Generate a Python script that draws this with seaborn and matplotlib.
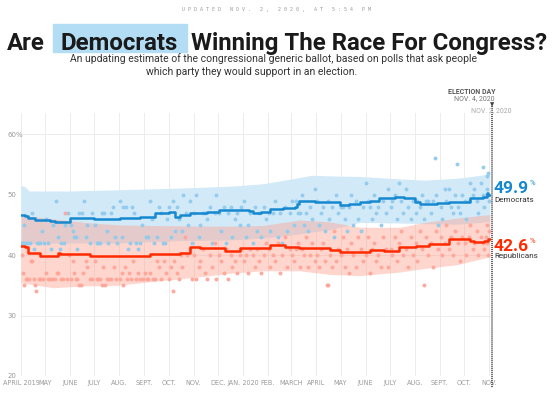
import numpy as np
import pandas as pd
import matplotlib
matplotlib.use("Agg")
import matplotlib.pyplot as plt
import seaborn as sns
from matplotlib.lines import Line2D
from matplotlib.patches import Rectangle

# ---------------- data ----------------
start = pd.Timestamp("2019-04-01")
month_starts = pd.date_range("2019-04-01", "2020-11-01", freq="MS")
month_labels = ["APRIL 2019", "MAY", "JUNE", "JULY", "AUG.", "SEPT.", "OCT.", "NOV.",
                "DEC.", "JAN. 2020", "FEB.", "MARCH", "APRIL", "MAY", "JUNE", "JULY",
                "AUG.", "SEPT.", "OCT.", "NOV."]
y_ticks = [20, 30, 40, 50, 60]
y_tick_labels = ["20", "30", "40", "50", "60%"]

# trend lines (days since 2019-04-01, value %)
dem_trend_days = [0, 5, 9, 17, 36, 42, 57, 61, 90, 120, 123, 147, 166, 184, 191, 197, 209,
                  230, 246, 283, 287, 298, 308, 325, 339, 342, 345, 364, 383, 395, 407, 420,
                  432, 444, 463, 475, 487, 488, 494, 515, 531, 556, 572, 577, 579, 581]
dem_trend_vals = [46.6, 46.4, 46.1, 45.8, 45.6, 45.5, 45.4, 46.1, 46.0, 45.9, 46.2, 46.3, 47.0,
                  47.1, 46.3, 46.6, 46.9, 47.1, 47.4, 47.3, 46.9, 47.2, 47.7, 47.8, 47.9, 48.5,
                  49.0, 48.8, 48.7, 48.3, 48.5, 48.7, 49.0, 49.4, 49.6, 49.5, 49.5, 48.8,
                  48.5, 48.6, 48.8, 49.4, 49.6, 50.2, 49.9, 49.9]

rep_trend_days = [0, 5, 9, 24, 46, 48, 85, 120, 160, 197, 209, 222, 253, 271, 308, 327, 345,
                  383, 395, 432, 450, 469, 490, 506, 531, 556, 562, 574, 579, 581]
rep_trend_vals = [41.5, 41.3, 40.4, 39.8, 40.4, 40.2, 39.9, 39.8, 40.1, 40.3, 41.3, 41.1, 40.7,
                  41.1, 41.6, 41.4, 41.1, 40.8, 40.5, 40.9, 40.7, 41.3, 41.5, 41.9, 42.7, 42.4,
                  42.2, 42.4, 42.6, 42.6]

# uncertainty bands
dem_band_days = [0, 5, 10, 60, 120, 200, 260, 300, 340, 360, 383, 420, 470, 500, 540, 570, 581]
dem_band_hi = [51.5, 51.3, 50.6, 50.6, 50.8, 51.1, 51.4, 51.8, 52.7, 53.2, 53.1, 53.0, 52.6,
               52.4, 52.7, 53.2, 53.5]
dem_band_lo = [41.8, 41.9, 41.9, 42.0, 42.0, 42.4, 42.5, 42.8, 43.4, 43.8, 44.2, 45.4, 45.3,
               45.2, 45.1, 45.4, 45.6]

rep_band_days = [0, 40, 80, 120, 160, 222, 260, 300, 345, 383, 420, 470, 500, 540, 565, 581]
rep_band_hi = [46.6, 46.0, 45.4, 45.0, 44.9, 44.8, 44.8, 44.9, 45.8, 45.5, 44.6, 44.6, 45.4,
               46.1, 46.5, 46.7]
rep_band_lo = [35.4, 34.6, 34.9, 35.0, 35.6, 36.4, 37.0, 37.4, 37.4, 36.8, 36.6, 37.2, 37.8,
               38.4, 39.2, 39.7]

# individual polls (day, value)
dem_polls = [
    (1, 42), (3, 42), (5, 42), (7, 42), (9, 42), (11, 42), (4, 45), (14, 47), (16, 41), (20, 42),
    (22, 42), (24, 42), (26, 44), (28, 42),
    (31, 46), (34, 42), (37, 41), (40, 45), (43, 49), (46, 43), (48, 41), (50, 42), (53, 42),
    (55, 45), (58, 47),
    (62, 45), (64, 44), (66, 43), (68, 43), (70, 41), (72, 47), (75, 47), (78, 49), (80, 43),
    (82, 45), (85, 42), (88, 47),
    (92, 45), (94, 42), (96, 42), (98, 42), (100, 47), (103, 47), (106, 44), (108, 42), (111, 47),
    (114, 48), (116, 43), (119, 42),
    (123, 49), (125, 43), (127, 48), (130, 48), (133, 41), (135, 42), (137, 48), (140, 47),
    (142, 42), (145, 41), (148, 42), (150, 45),
    (155, 43), (157, 43), (160, 49), (162, 46), (165, 42), (168, 43), (171, 48), (174, 47),
    (176, 42), (179, 42), (181, 46),
    (184, 48), (186, 43), (189, 49), (191, 44), (193, 48), (196, 46), (199, 44), (201, 50),
    (204, 47), (207, 45), (210, 49), (212, 42),
    (215, 47), (217, 50), (220, 43), (222, 45), (225, 47), (228, 47), (231, 46), (234, 48),
    (237, 42), (240, 47), (242, 50),
    (246, 47), (248, 44), (251, 48), (254, 42), (257, 47), (260, 48), (262, 43), (265, 46),
    (268, 47), (271, 45), (273, 48),
    (276, 49), (279, 43), (281, 45), (284, 47), (287, 42), (290, 48), (292, 44), (295, 47),
    (298, 43), (301, 48), (304, 46),
    (307, 47), (309, 44), (312, 47), (315, 49), (318, 43), (321, 47), (324, 42), (327, 48),
    (330, 44), (333, 47),
    (336, 49), (338, 45), (341, 49), (343, 47), (346, 47), (348, 50), (351, 45), (353, 47),
    (356, 44), (358, 48), (361, 46), (364, 51),
    (367, 49), (369, 45), (372, 47), (374, 48), (377, 44), (380, 49), (382, 46), (385, 48),
    (388, 43), (391, 50), (393, 47),
    (397, 48), (399, 48), (402, 46), (404, 44), (407, 48), (409, 50), (412, 45), (415, 49),
    (418, 46), (421, 44), (424, 48),
    (428, 52), (430, 49), (433, 48), (435, 46), (438, 50), (440, 47), (443, 48), (446, 45),
    (449, 49), (452, 47), (455, 51),
    (458, 48), (460, 49), (463, 50), (466, 46), (469, 52), (471, 49), (474, 47), (477, 51),
    (480, 48), (483, 46), (486, 49),
    (489, 47), (491, 49), (494, 48), (497, 50), (500, 46), (502, 49), (505, 49), (508, 47),
    (511, 49), (513, 56), (514, 50), (517, 45),
    (520, 48), (522, 46), (525, 51), (527, 49), (530, 51), (533, 48), (535, 47), (538, 50),
    (540, 55), (541, 48), (544, 47), (547, 50),
    (550, 49), (552, 46), (555, 49), (557, 52), (560, 50), (562, 51), (565, 49), (567, 47),
    (570, 52), (572, 50), (573, 54.5), (574, 48), (576, 50), (577, 51), (578, 53), (579, 53.5),
    (580, 49),
]
rep_polls = [
    (1, 40), (3, 37), (4, 35), (6, 36), (8, 36), (10, 36), (12, 39), (14, 39), (16, 36), (17, 35),
    (19, 34), (22, 36), (24, 36), (27, 36),
    (31, 37), (33, 36), (36, 36), (39, 36), (42, 36), (44, 37), (46, 37), (49, 36), (52, 36),
    (54, 47), (57, 36), (59, 40),
    (62, 36), (64, 39), (66, 37), (68, 36), (70, 36), (72, 35), (74, 35), (77, 37), (80, 39),
    (82, 38), (85, 36), (88, 36),
    (92, 39), (94, 36), (96, 36), (98, 36), (100, 35), (102, 38), (104, 35), (106, 36), (109, 36),
    (112, 36), (115, 38), (118, 36),
    (123, 36), (125, 37), (127, 35), (129, 38), (131, 36), (134, 37), (136, 36), (139, 39),
    (142, 36), (145, 37), (148, 36), (151, 36),
    (154, 37), (156, 36), (158, 36), (160, 37), (163, 36), (166, 36), (168, 39), (171, 38),
    (174, 36), (177, 39), (180, 37),
    (184, 36), (186, 38), (188, 34), (190, 39), (193, 37), (196, 36), (198, 40), (200, 38),
    (203, 43), (206, 40), (209, 41), (212, 36),
    (215, 40), (217, 36), (220, 38), (222, 39), (225, 41), (228, 37), (231, 36), (234, 40),
    (237, 38), (240, 42), (242, 36),
    (246, 40), (248, 39), (251, 37), (254, 41), (257, 36), (260, 40), (262, 38), (265, 39),
    (268, 37), (271, 40), (273, 41),
    (276, 39), (279, 40), (281, 37), (284, 41), (287, 40), (290, 38), (292, 41), (295, 39),
    (298, 37), (301, 40), (304, 42),
    (307, 41), (309, 38), (312, 40), (315, 39), (318, 42), (321, 37), (324, 40), (327, 43),
    (330, 38), (333, 41),
    (336, 40), (338, 39), (341, 41), (343, 42), (346, 38), (348, 41), (351, 40), (353, 43),
    (356, 38), (358, 40), (361, 42), (364, 39),
    (367, 40), (369, 38), (372, 41), (374, 42), (377, 39), (379, 35), (381, 35), (383, 40),
    (385, 38), (388, 44), (391, 39), (393, 41),
    (397, 40), (399, 43), (402, 38), (404, 41), (407, 37), (409, 42), (412, 40), (415, 38),
    (418, 43), (421, 41), (424, 39),
    (428, 40), (430, 43), (433, 37), (435, 41), (438, 42), (440, 39), (443, 40), (446, 38),
    (449, 43), (452, 41), (455, 38),
    (458, 41), (460, 40), (463, 43), (466, 39), (469, 42), (471, 44), (474, 40), (477, 41),
    (480, 38), (483, 43), (486, 40),
    (489, 42), (491, 39), (494, 44), (497, 41), (499, 35), (502, 43), (505, 40), (508, 42),
    (511, 38), (514, 44), (517, 41),
    (520, 43), (522, 40), (525, 42), (527, 45), (530, 41), (533, 43), (535, 40), (538, 44),
    (541, 42), (544, 39), (547, 43),
    (550, 42), (552, 40), (555, 43), (557, 45), (560, 41), (562, 42), (565, 44), (567, 40),
    (570, 43), (572, 42), (574, 41), (576, 43), (577, 42), (578, 45), (579, 40), (580, 44),
]
dem_latest = "49.9"
rep_latest = "42.6"
election_day = pd.Timestamp("2020-11-03")

# ---------------- styling ----------------
sns.set_style("white")
plt.rcParams["font.family"] = ["Roboto", "DejaVu Sans"]

BLUE_LINE = "#1688d0"
RED_LINE = "#ff2a00"
BLUE_BAND = "#d2eaf8"
RED_BAND = "#ff9f8c"
BLUE_DOT = "#92caec"
RED_DOT = "#ffa598"

W, H = 553, 396
fig = plt.figure(figsize=(W / 100, H / 100), dpi=100)
fig.patch.set_facecolor("white")


def fx(px):
    return px / W


def fy(py):
    return 1 - py / H


ax = fig.add_axes([fx(21), 20 / H, 470 / W, 263 / H])
ax.set_facecolor("white")

month_days = [(d - start).days for d in month_starts]
xmax = (election_day - start).days + 0.5

dem_df = pd.DataFrame(dem_polls, columns=["day", "pct"])
rep_df = pd.DataFrame(rep_polls, columns=["day", "pct"])

# bands
ax.fill_between(dem_band_days, dem_band_lo, dem_band_hi, color=BLUE_BAND, lw=0, zorder=1)
ax.fill_between(rep_band_days, rep_band_lo, rep_band_hi, color=RED_BAND, alpha=0.42, lw=0, zorder=2)

# polls
sns.scatterplot(data=dem_df, x="day", y="pct", color=BLUE_DOT, s=8, linewidth=0,
                alpha=0.95, ax=ax, zorder=3)
sns.scatterplot(data=rep_df, x="day", y="pct", color=RED_DOT, s=8, linewidth=0,
                alpha=0.95, ax=ax, zorder=3)

# trend lines
dem_tr = pd.DataFrame({"day": dem_trend_days, "pct": dem_trend_vals})
rep_tr = pd.DataFrame({"day": rep_trend_days, "pct": rep_trend_vals})
sns.lineplot(data=dem_tr, x="day", y="pct", color=BLUE_LINE, lw=1.8, drawstyle="steps-post",
             estimator=None, ax=ax, zorder=5)
sns.lineplot(data=rep_tr, x="day", y="pct", color=RED_LINE, lw=1.8, drawstyle="steps-post",
             estimator=None, ax=ax, zorder=5)

ax.set_xlim(0, xmax)
ax.set_ylim(20, 63.5)
ax.set_xticks(month_days)
ax.set_xticklabels(month_labels, fontsize=4.7, color="#9a9a9a", family=["DejaVu Sans"])
ax.set_yticks(y_ticks)
ax.set_yticklabels(y_tick_labels, fontsize=5.0, color="#9a9a9a", family=["DejaVu Sans"])
for lbl in ax.get_yticklabels():
    lbl.set_ha("left")
ax.tick_params(axis="y", length=0, pad=9.5)
ax.tick_params(axis="x", length=0, pad=3)
ax.grid(True, color="#ececec", lw=0.7)
ax.set_axisbelow(True)
for s in ax.spines.values():
    s.set_visible(False)
ax.set_xlabel("")
ax.set_ylabel("")

# election-day dotted line
fig.add_artist(Line2D([fx(492), fx(492)], [fy(104), fy(388)], color="#555555", lw=1.3,
                      linestyle=(0, (0.6, 0.5)), transform=fig.transFigure))
fig.text(fx(492), fy(105), "▼", fontsize=4, color="#444444", ha="center", va="center",
         family=["DejaVu Sans"])
fig.text(fx(495), fy(91.5), "ELECTION DAY", fontsize=5.0, weight="bold", color="#555555",
         ha="right", va="center")
fig.text(fx(495), fy(99), "NOV. 4, 2020", fontsize=5.0, color="#777777", ha="right", va="center")
fig.text(fx(491), fy(110.5), "NOV. 2, 2020", fontsize=5.0, color="#aaaaaa", ha="center",
         va="center")

fig.canvas.draw()
rend = fig.canvas.get_renderer()

# right-side labels
t1 = fig.text(fx(494), fy(193), dem_latest, fontsize=12.5, weight="bold", color=BLUE_LINE,
              ha="left", va="baseline")
x1 = t1.get_window_extent(rend).x1
fig.text(fx(x1 + 1), fy(183), "%", fontsize=5.5, color=BLUE_LINE, ha="left", va="center")
fig.text(fx(494), fy(199.5), "Democrats", fontsize=5.9, color="#333333", ha="left", va="center")
t2 = fig.text(fx(494), fy(251), rep_latest, fontsize=12.5, weight="bold", color=RED_LINE,
              ha="left", va="baseline")
x2 = t2.get_window_extent(rend).x1
fig.text(fx(x2 + 1), fy(241), "%", fontsize=5.5, color=RED_LINE, ha="left", va="center")
fig.text(fx(494), fy(256), "Republicans", fontsize=5.9, color="#333333", ha="left", va="center")

# header
fig.text(0.5, fy(9), "U P D A T E D   N O V .   2 ,   2 0 2 0 ,   A T   5 : 5 4   P M",
         fontsize=3.6, color="#999999", ha="center", va="center", family=["DejaVu Sans Mono"])

# title, scaled so that the whole line spans the same width as the reference
base = fy(50)
pieces = ["Are", "Democrats", "Winning The Race For Congress?"]
widths = []
for p in pieces:
    pr = fig.text(0, base, p, fontsize=18, weight="bold", va="baseline")
    widths.append(pr.get_window_extent(rend).width)
    pr.remove()
gaps = 16 + 13
scale = (541 - gaps) / sum(widths)
tsize = 18 * scale

t_are = fig.text(fx(7), base, "Are", fontsize=tsize, weight="bold", color="#1a1a1a",
                 va="baseline")
are_r = t_are.get_window_extent(rend).x1
t_dem = fig.text(fx(are_r + 16), base, "Democrats", fontsize=tsize, weight="bold",
                 color="#1a1a1a", va="baseline")
ext = t_dem.get_window_extent(rend)
fig.add_artist(Rectangle((fx(ext.x0 - 8), fy(52)), (ext.width + 17) / W, 28 / H,
                         transform=fig.transFigure, color="#b2ddf4", zorder=0))
t_win = fig.text(fx(ext.x1 + 13), base, "Winning The Race For Congress?", fontsize=tsize,
                 weight="bold", color="#1a1a1a", va="baseline")

sub1 = "An updating estimate of the congressional generic ballot, based on polls that ask people"
probe = fig.text(0, 0, sub1, fontsize=9)
sw = probe.get_window_extent(rend).width
ssize = min(9 * 408 / sw, 8.6)
probe.remove()
fig.text(fx(274), fy(59), sub1, fontsize=ssize, color="#333333", ha="center", va="center")
fig.text(fx(252), fy(72), "which party they would support in an election.",
         fontsize=ssize, color="#333333", ha="center", va="center")

fig.savefig("out.png", dpi=100, facecolor="white")
